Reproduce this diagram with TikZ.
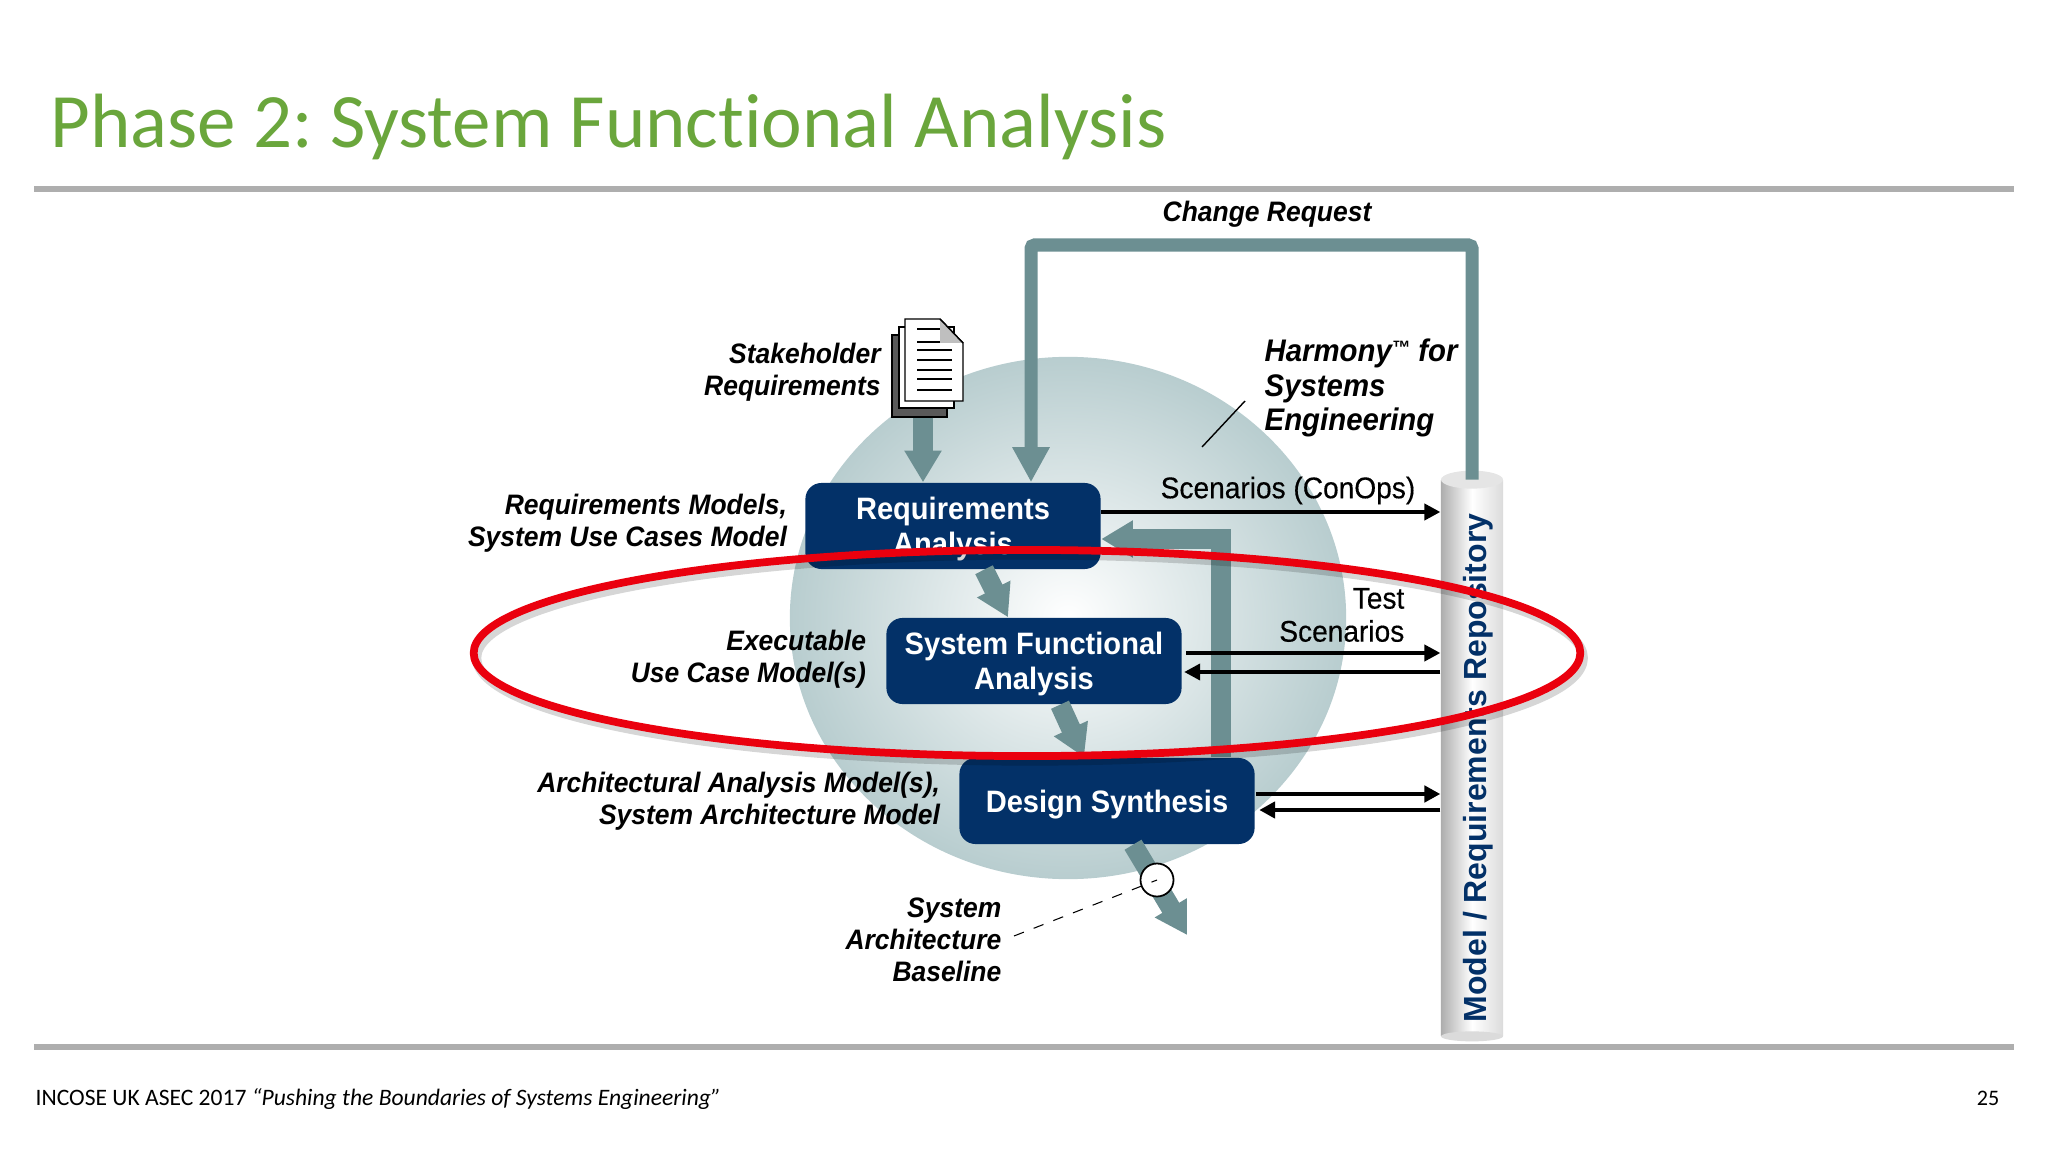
\documentclass[tikz,border=0pt]{standalone}
\usepackage{fontspec}
\setmainfont[FakeStretch=0.94]{Liberation Sans}
\newfontfamily\fullwidth{Liberation Sans}
\newfontfamily\heavyplain[FakeStretch=0.94,FakeBold=0.35]{Liberation Sans}
\newfontfamily\carlito[Ligatures=NoCommon]{Carlito}
\usetikzlibrary{positioning, arrows.meta, calc, shapes.geometric}
\definecolor{titlegreen}{RGB}{106,166,60}
\definecolor{rulegrey}{RGB}{174,174,174}
\definecolor{boxnavy}{RGB}{3,49,104}
\definecolor{flowteal}{RGB}{108,143,146}
\definecolor{discgrey}{RGB}{184,205,207}
\definecolor{ringred}{RGB}{234,0,14}

\begin{document}
\begin{tikzpicture}[
  x=0.01cm, y=-0.01cm,
  rulebar/.style={draw=rulegrey, line width=1.5pt},
  phasebox/.style={fill=boxnavy, rounded corners=0.16cm, minimum width=2.95cm, minimum height=0.86cm,
                  align=center, text=white, inner sep=0pt, text height=18.2pt, font=\fontsize{8.8}{10}\selectfont\bfseries},
  tag/.style={align=right, inner sep=0pt, font=\fontsize{8}{9.1}\selectfont\bfseries\itshape},
  plain/.style={align=right, inner sep=0pt, font=\heavyplain\fontsize{8.5}{9.4}\selectfont},
  flow/.style={draw=flowteal, line width=5.6pt, -{Triangle[length=9pt, width=10pt]}},
  thinflow/.style={draw=flowteal, line width=3.7pt, rounded corners=1pt, -{Triangle[length=10pt, width=10pt]}},
  link/.style={-{Triangle[length=4.5pt, width=4.6pt]}, line width=0.9pt},
  page/.style={draw, line width=0.4pt, fill=white}
]
  \useasboundingbox (0,0) rectangle (2048,1152);
  % slide frame
  \node[anchor=base west, inner sep=0pt, text=titlegreen, font=\carlito\fontsize{21.88}{26}\selectfont] (title) at (50,148) {Phase 2:\hspace{-1.8pt} System Functional Analysis};
  \coordinate (ruleA) at (34,189);
  \coordinate (ruleB) at (2014,189);
  \coordinate (ruleC) at (34,1047);
  \coordinate (ruleD) at (2014,1047);
  \draw[rulebar] (ruleA) -- (ruleB);
  \draw[rulebar] (ruleC) -- (ruleD);
  \node[anchor=base west, inner sep=0pt, font=\carlito\fontsize{6.7}{8}\selectfont] (footer) at (35,1105) {INCOSE UK ASEC 2017 \itshape “Pushing the Boundaries of Systems Engineering”};
  \node[anchor=base east, inner sep=0pt, font=\carlito\fontsize{6.3}{8}\selectfont] (pageno) at (2000,1105) {25};

  % disc behind the boxes
  \node[ellipse, inner sep=0pt, minimum width=5.56cm, minimum height=5.22cm, inner color=white, outer color=discgrey] (disc) at (1068,618) {};

  \node[phasebox] (req) at (953,526) {Requirements\\Analysis};
  \node[phasebox] (sfa) at (1034,661) {System Functional\\Analysis};
  \node[phasebox, text height=8.3pt] (des) at (1107,801) {Design Synthesis};

  % repository column
  \node[minimum width=0.62cm, minimum height=5.55cm, inner sep=0pt, left color=black!32, right color=black!14, middle color=white] (repo) at (1472,758) {};
  \fill[black!10] (repo.north) ellipse (31 and 9);
  \fill[black!14] (repo.south) ellipse (31 and 5);
  \node[rotate=90, inner sep=0pt, text=boxnavy, font=\fullwidth\fontsize{9.1}{10}\selectfont\bfseries] (repotext) at (1478,768) {Model / Requirements Repository};

  % stakeholder documents
  \node[inner sep=0pt, minimum width=0.71cm, minimum height=0.98cm] (doc) at (927.5,368) {};
  \filldraw[fill=black!65, line width=0.4pt] (892,335) rectangle (947,417);
  \draw[page] (899,327) rectangle (954,408);
  \draw[page] (905,319) -- (940,319) -- (963,343) -- (963,401) -- (905,401) -- cycle;
  \fill[black!25] (940,319) -- (963,343) -- (940,343) -- cycle;
  \draw[line width=0.4pt] (940,319) -- (963,343);
  \foreach \y in {329,342} \draw[line width=0.5pt] (917,\y) -- (940,\y);
  \foreach \y in {350,360,370,379,390} \draw[line width=0.5pt] (917,\y) -- (952,\y);

  % arrows between phases
  \coordinate (topbend) at (1031,245);
  \coordinate (backbend) at (1221,539);
  \coordinate (baseline) at (1187,935);
  \coordinate (docdrop) at ($(doc.south)+(-4.5,0)$);
  \draw[flow] (docdrop) -- (docdrop |- req.north);
  \draw[thinflow] (repo.north) |- (topbend) -- (topbend |- req.north);
  \draw[flow] (des.north -| backbend) |- (backbend -| req.east);
  \draw[flow] ($(req.south)+(31,0)$) -- ($(sfa.north)+(-26,0)$);
  \draw[flow] ($(sfa.south)+(26,0)$) -- ($(des.north)+(-23,0)$);
  \draw[flow] ($(des.south)+(26,0)$) -- (baseline);

  \draw[link] (req.east |- 0,512) -- (repo.west |- 0,512);
  \draw[link] ($(sfa.east)+(4,-8)$) -- (repo.west |- 0,653);
  \draw[link] (repo.west |- 0,672) -- ($(sfa.east)+(2,11)$);
  \draw[link, line width=1.1pt] ($(des.east)+(1,-7)$) -- (repo.west |- 0,794);
  \draw[link, line width=1.3pt] (repo.west |- 0,810) -- ($(des.east)+(4,9)$);

  % baseline marker
  \node[circle, draw, fill=white, line width=0.5pt, minimum size=0.33cm, inner sep=0pt] (mark) at (1157,880) {};

  % labels
  \node[tag, left=0.1cm of doc.west, yshift=-0.045cm] (stake) {Stakeholder\\Requirements};
  \node[tag, left=0.17cm of req.west, yshift=0.024cm] (reqmodel) {Requirements Models,\\System Use Cases Model};
  \node[tag, left=0.19cm of sfa.west, yshift=0.014cm] (exec) {Executable\\Use Case Model(s)};
  \node[tag, left=0.18cm of des.west, yshift=-0.006cm] (arch) {Architectural Analysis Model(s),\\System Architecture Model};
  \node[tag, anchor=east] (sab) at (1002,940) {System\\Architecture\\Baseline};
  \node[tag] (change) at (1267,214.5) {Change Request};
  \node[tag, align=left, anchor=west, font=\fontsize{8.88}{9.9}\selectfont\bfseries\itshape] (harmony) at (1264,388) {Harmony\raisebox{2pt}{\fontsize{5.5}{6}\selectfont ™} for\\Systems\\Engineering};
  \node[plain] (conops) at (1288,490.5) {Scenarios (ConOps)};
  \node[plain, anchor=east] (test) at (1405,615) {Test\\Scenarios};

  \coordinate (harmA) at (1202,447);
  \coordinate (harmB) at (1245,401);
  \draw[line width=0.4pt] (harmA) -- (harmB);
  \coordinate (sabend) at (1014,936);
  \draw[dashed, line width=0.3pt] (sabend) -- (mark.center);

  % highlight ring
  \node[ellipse, inner sep=0pt, minimum width=11.06cm, minimum height=2.06cm, draw=black, opacity=0.16, line width=2.6pt] (ringshade) at (1030,658) {};
  \node[ellipse, inner sep=0pt, minimum width=11.06cm, minimum height=2.06cm, draw=ringred, line width=2.2pt] (ring) at (1027,653) {};
\end{tikzpicture}
\end{document}
